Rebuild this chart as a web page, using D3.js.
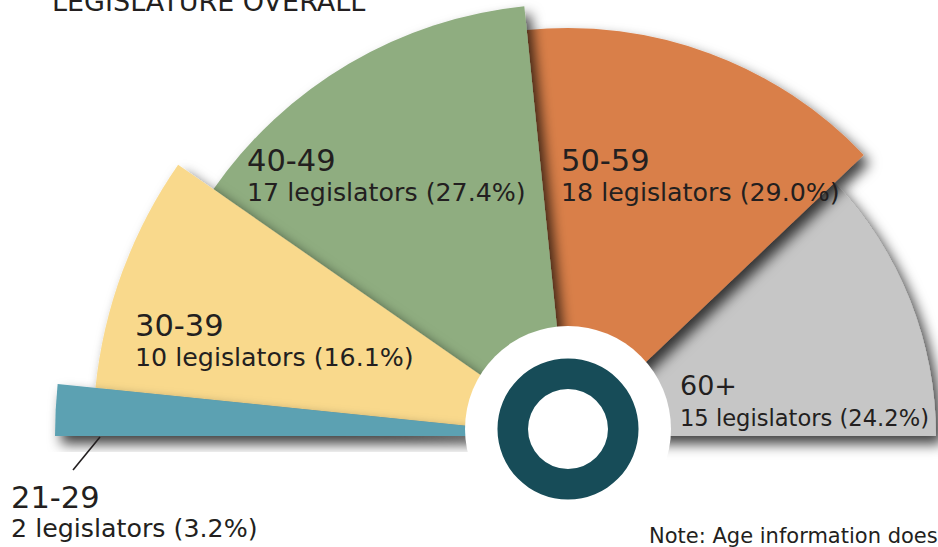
<!DOCTYPE html>
<html>
<head>
<meta charset="utf-8">
<script src="https://cdn.jsdelivr.net/npm/d3@7/dist/d3.min.js"></script>
<style>
  html, body { margin: 0; padding: 0; background: #ffffff; overflow: hidden; }
  svg { display: block; font-family: "DejaVu Sans", Verdana, sans-serif; }
</style>
</head>
<body>
<svg id="chart" width="938" height="547"></svg>
<script>
// ---- data ----
const ageGroups = ["21-29", "30-39", "40-49", "50-59", "60+"];
const legislatorCounts = [2, 10, 17, 18, 15];
const shareLabels = ["3.2%", "16.1%", "27.4%", "29.0%", "24.2%"];
const sliceColors = ["#5BA1B2", "#F9D98C", "#8FAD80", "#D97F49", "#C6C6C6"];
const titleText = "LEGISLATURE OVERALL";
const noteText = "Note: Age information does";

// ---- layout ----
const W = 938, H = 547;
const cx = 568, cy = 436;
const svg = d3.select("#chart");

const defs = svg.append("defs");
const f = defs.append("filter").attr("id", "shadow")
  .attr("x", "-30%").attr("y", "-30%").attr("width", "160%").attr("height", "160%");
f.append("feDropShadow").attr("dx", 6).attr("dy", 8)
  .attr("stdDeviation", 6.5).attr("flood-color", "#000").attr("flood-opacity", 0.75);

const data = ageGroups.map((g, i) => ({ group: g, count: legislatorCounts[i], share: shareLabels[i], color: sliceColors[i], idx: i }));

const pie = d3.pie().value(d => d.count).sort(null)
  .startAngle(-Math.PI / 2).endAngle(Math.PI / 2);
const arcsData = pie(data);

// decorative outer radius (not data-driven), decreasing by slice order
const radius = d3.scaleOrdinal().domain(ageGroups).range([513, 475, 432, 408, 368]);
const arc = d3.arc().innerRadius(0).outerRadius(d => radius(d.data.group));

const g = svg.append("g").attr("transform", `translate(${cx},${cy})`);
// draw back-to-front: last slice first so earlier slices overlap
g.selectAll("path.slice")
  .data(arcsData.slice().reverse())
  .join("path")
  .attr("class", "slice")
  .attr("d", arc)
  .attr("fill", d => d.data.color)
  .attr("filter", "url(#shadow)");

// center badge
svg.append("circle").attr("cx", cx).attr("cy", cy - 7).attr("r", 103).attr("fill", "#ffffff");
const ring = d3.arc().innerRadius(40).outerRadius(70.5).startAngle(0).endAngle(2 * Math.PI);
svg.append("path").attr("transform", `translate(${cx},${cy - 7})`).attr("d", ring()).attr("fill", "#174C58");

// labels
const labelPos = [
  { x: 11, y1: 508, y2: 537, s1: 30.5, s2: 25.3 },
  { x: 135, y1: 336, y2: 366, s1: 30.5, s2: 25.3 },
  { x: 247, y1: 171, y2: 201, s1: 30.5, s2: 25.3 },
  { x: 561, y1: 171, y2: 201, s1: 30.5, s2: 25.3 },
  { x: 680, y1: 395, y2: 426, s1: 27, s2: 22.6 }
];
const textColor = "#231F20";
const labels = svg.append("g");
data.forEach((d, i) => {
  const p = labelPos[i];
  labels.append("text").attr("x", p.x).attr("y", p.y1)
    .attr("font-size", p.s1).attr("fill", textColor).text(d.group);
  labels.append("text").attr("x", p.x).attr("y", p.y2)
    .attr("font-size", p.s2).attr("fill", textColor)
    .text(`${d.count} legislators (${d.share})`);
});

// leader line for the smallest slice
svg.append("line").attr("x1", 73).attr("y1", 470).attr("x2", 100).attr("y2", 437)
  .attr("stroke", "#231F20").attr("stroke-width", 1.6);

// title (cropped at top) and note
svg.append("text").attr("x", 52).attr("y", 11).attr("font-size", 27)
  .attr("fill", textColor).text(titleText);
svg.append("text").attr("x", 649).attr("y", 543).attr("font-size", 21)
  .attr("fill", textColor).text(noteText);
</script>
</body>
</html>
